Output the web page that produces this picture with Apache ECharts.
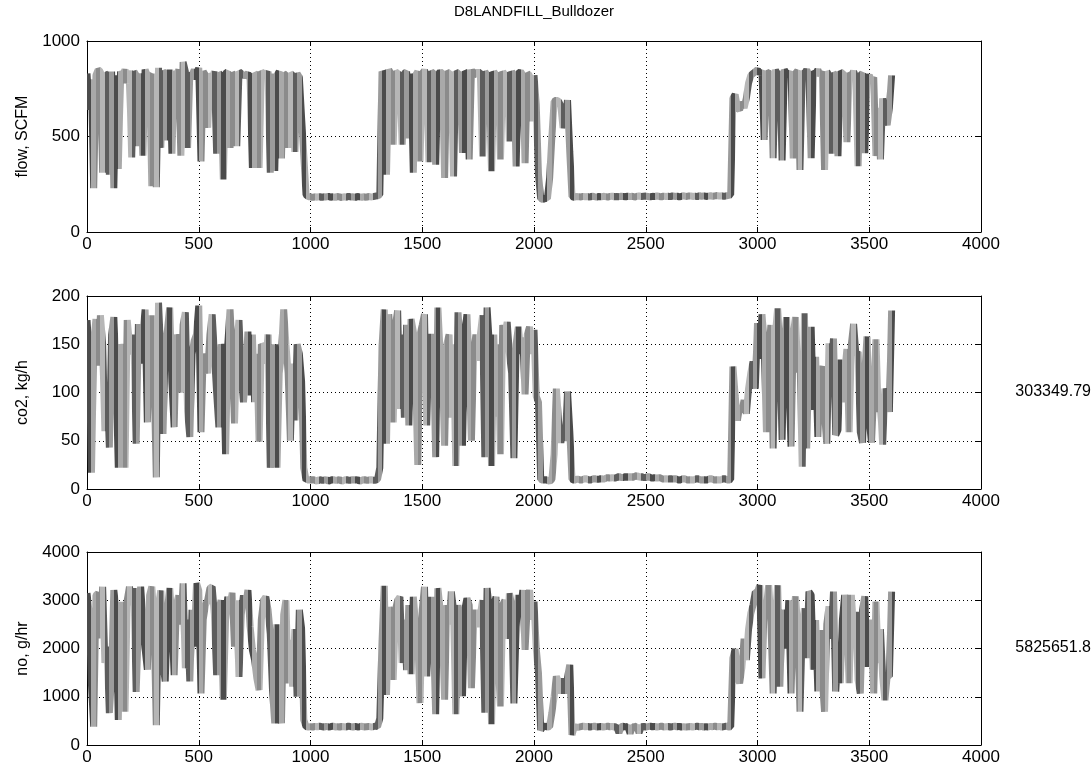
<!DOCTYPE html>
<html>
<head>
<meta charset="utf-8">
<script src="https://cdn.jsdelivr.net/npm/echarts@6/dist/echarts.min.js"></script>
<style>
html,body{margin:0;padding:0;background:#fff;}
#chart{width:1092px;height:778px;}
</style>
</head>
<body>
<div id="chart"></div>
<script>
// ---- data (sampled every 10 s, t = 0 .. 3600) ----
const sampleStep = 10;
const chartTitle = 'D8LANDFILL_Bulldozer';
const yNames = ['flow, SCFM', 'co2, kg/h', 'no, g/hr'];
const totals = ['', '303349.79', '5825651.8'];
const xTicks = {min: 0, max: 4000, interval: 500};
const yTicks = [
  {min: 0, max: 1000, interval: 500},
  {min: 0, max: 200, interval: 50},
  {min: 0, max: 4000, interval: 1000}
];

const flow = [
  830, 640, 800, 230, 820, 850, 840, 310, 830, 820,
  300, 840, 230, 820, 330, 840, 820, 850, 780, 845,
  390, 840, 820, 450, 830, 400, 850, 820, 830, 240,
  830, 235, 860, 440, 840, 830, 480, 850, 410, 840,
  820, 850, 400, 890, 840, 440, 830, 820, 850, 800,
  860, 370, 840, 820, 545, 830, 800, 840, 410, 830,
  820, 275, 830, 840, 440, 830, 820, 450, 840, 830,
  820, 820, 830, 800, 335, 830, 820, 335, 840, 830,
  820, 840, 310, 830, 320, 820, 840, 385, 830, 820,
  440, 830, 820, 420, 830, 810, 600, 400, 195, 185,
  185, 180, 185, 182, 186, 180, 185, 183, 187, 182,
  185, 180, 186, 184, 180, 185, 182, 187, 183, 185,
  180, 186, 184, 182, 185, 180, 187, 183, 185, 188,
  190, 195, 840, 820, 300, 850, 830, 457, 840, 830,
  820, 457, 830, 840, 490, 830, 310, 820, 840, 370,
  830, 845, 820, 365, 840, 830, 352, 820, 840, 830,
  283, 840, 830, 820, 291, 840, 830, 820, 414, 840,
  830, 380, 850, 820, 830, 840, 830, 396, 840, 820,
  830, 318, 840, 820, 830, 380, 840, 820, 830, 475,
  840, 820, 344, 830, 840, 820, 360, 830, 820, 580,
  820, 667, 300, 175, 170, 178, 175, 283, 500, 684,
  690, 685, 660, 545, 600, 690, 420, 185, 182, 186,
  185, 183, 187, 184, 186, 182, 188, 185, 183, 186,
  184, 187, 185, 183, 186, 188, 184, 186, 185, 187,
  186, 184, 188, 185, 187, 183, 186, 189, 185, 187,
  188, 186, 184, 187, 185, 189, 186, 184, 188, 186,
  187, 185, 189, 186, 188, 184, 187, 190, 186, 188,
  189, 186, 188, 185, 190, 187, 189, 186, 188, 190,
  187, 189, 191, 188, 190, 186, 189, 192, 195, 700,
  720, 650, 640, 680, 650, 700, 780, 820, 830, 840,
  850, 830, 845, 482, 840, 830, 830, 387, 850, 820,
  840, 375, 850, 830, 820, 840, 385, 830, 845, 325,
  840, 830, 850, 820, 387, 840, 830, 850, 820, 840,
  325, 840, 820, 410, 830, 820, 397, 840, 830, 820,
  471, 830, 820, 840, 810, 345, 820, 830, 413, 800,
  820, 790, 810, 398, 650, 380, 700, 600, 560, 650,
  820
];

const co2 = [
  175, 140, 17, 150, 176, 128, 180, 150, 60, 110,
  43, 160, 178, 120, 22, 150, 140, 22, 175, 150,
  140, 160, 47, 171, 130, 160, 186, 69, 150, 180,
  120, 12, 193, 140, 57, 150, 165, 188, 110, 64,
  160, 150, 100, 170, 183, 81, 54, 140, 154, 160,
  190, 59, 140, 130, 120, 160, 181, 140, 100, 64,
  150, 140, 36, 150, 186, 140, 68, 150, 175, 120,
  90, 120, 163, 97, 160, 90, 140, 49, 150, 147,
  130, 160, 22, 90, 150, 22, 120, 140, 186, 150,
  120, 50, 130, 71, 150, 140, 112, 22, 9, 10,
  9, 10, 9, 8, 10, 9, 9, 10, 8, 9,
  10, 9, 9, 10, 8, 9, 10, 9, 9, 10,
  9, 10, 8, 9, 10, 9, 9, 10, 9, 9,
  10, 22, 148, 186, 47, 181, 150, 69, 170, 185,
  83, 160, 74, 170, 66, 176, 163, 120, 25, 160,
  170, 181, 66, 150, 160, 150, 33, 188, 140, 120,
  45, 150, 160, 74, 150, 24, 183, 150, 45, 160,
  181, 120, 50, 140, 160, 133, 160, 180, 33, 188,
  150, 24, 160, 75, 150, 36, 170, 160, 173, 140,
  120, 32, 150, 168, 140, 157, 98, 160, 168, 140,
  165, 96, 90, 10, 9, 10, 9, 8, 10, 36,
  104, 70, 48, 60, 50, 101, 60, 10, 9, 10,
  10, 9, 10, 11, 10, 9, 10, 11, 10, 10,
  11, 10, 11, 12, 11, 12, 11, 12, 13, 12,
  12, 13, 12, 13, 12, 13, 14, 12, 13, 12,
  12, 13, 12, 11, 12, 11, 12, 11, 10, 11,
  10, 11, 10, 11, 10, 9, 10, 11, 10, 9,
  10, 9, 10, 11, 10, 9, 10, 9, 10, 11,
  10, 9, 10, 9, 10, 11, 10, 9, 10, 127,
  97, 71, 85, 80, 92, 78, 104, 120, 132, 104,
  172, 135, 181, 150, 59, 140, 170, 42, 160, 187,
  140, 51, 150, 178, 120, 44, 160, 178, 121, 140,
  23, 182, 42, 140, 168, 82, 137, 54, 120, 127,
  78, 47, 151, 120, 156, 56, 61, 134, 90, 120,
  145, 59, 150, 171, 140, 142, 59, 48, 120, 158,
  71, 48, 100, 155, 80, 90, 46, 104, 95, 80,
  185
];

const no = [
  3150, 2730, 1250, 380, 3100, 3150, 2210, 3280, 1700, 2040,
  660, 1410, 3210, 2800, 520, 2970, 1800, 690, 3000, 3280,
  2900, 3250, 1100, 2500, 3280, 2600, 1990, 1560, 3100, 3280,
  2590, 410, 2900, 3200, 1650, 1320, 2800, 3250, 2560, 1450,
  2900, 3100, 2500, 3350, 1590, 2600, 1320, 2800, 2040, 3350,
  3200, 1070, 2600, 2900, 3000, 3250, 3280, 2700, 1450, 2800,
  3000, 940, 2600, 3070, 2900, 3150, 2040, 3000, 1410, 2700,
  3100, 2900, 3210, 2450, 1970, 1760, 1380, 1140, 2600, 3000,
  3070, 2800, 2300, 1140, 450, 2500, 860, 450, 2700, 3000,
  1280, 2180, 1210, 2400, 1000, 2800, 2420, 520, 380, 370,
  380, 370, 385, 375, 390, 380, 370, 385, 375, 380,
  390, 375, 380, 370, 385, 380, 375, 390, 380, 370,
  385, 375, 380, 390, 370, 380, 385, 375, 380, 390,
  380, 553, 2140, 3300, 1040, 2860, 2500, 1350, 2800, 3000,
  3070, 1700, 2600, 1550, 2900, 1470, 3070, 2500, 2200, 870,
  2800, 3280, 1420, 2600, 3070, 2300, 640, 3250, 2800, 2400,
  940, 2900, 2500, 3180, 2800, 640, 2900, 2400, 1010, 2800,
  3040, 2900, 1180, 2500, 2800, 2450, 2700, 3000, 670, 3250,
  2800, 430, 2900, 3070, 1690, 800, 2900, 3000, 2200, 3140,
  2900, 860, 2450, 3110, 2800, 3210, 1970, 2900, 3210, 2600,
  2970, 2000, 1490, 310, 380, 390, 370, 380, 670, 1000,
  1420, 1300, 1070, 1380, 1070, 1400, 1660, 210, 380, 370,
  370, 380, 390, 375, 385, 370, 380, 390, 375, 380,
  385, 370, 380, 390, 375, 385, 370, 380, 250, 380,
  390, 370, 385, 240, 380, 375, 390, 250, 380, 385,
  370, 380, 390, 375, 385, 370, 380, 390, 375, 380,
  385, 370, 380, 390, 375, 385, 370, 380, 375, 380,
  385, 370, 380, 390, 375, 385, 370, 380, 375, 385,
  380, 390, 375, 385, 370, 380, 390, 375, 380, 1800,
  1990, 1420, 1280, 1600, 2200, 1760, 2400, 2730, 2900, 3170,
  3170, 3310, 1380, 2940, 2870, 3310, 2560, 1070, 2590, 3310,
  1210, 2800, 2590, 2000, 3000, 1070, 2600, 3080, 2450, 690,
  2400, 2830, 1800, 3180, 3110, 1560, 2590, 1110, 2380, 1350,
  690, 2500, 2870, 2200, 3180, 1110, 1900, 1280, 2600, 3110,
  2690, 1280, 3110, 2350, 2760, 1350, 1070, 2800, 3080, 1620,
  2600, 2180, 1070, 2970, 1700, 2400, 1420, 930, 1420, 1420,
  3180
];

// ---- chart ----
const seriesValues = [flow, co2, no];
const grayCycle = ['#4b4b4b', '#a9a9a9', '#8b8b8b', '#b6b6b6', '#5d5d5d', '#9b9b9b'];
const pieceWidth = 20;

const chart = echarts.init(document.getElementById('chart'), null, {renderer: 'canvas'});

const grids = [
  {left: 87, top: 41, width: 894, height: 191},
  {left: 87, top: 296, width: 894, height: 193},
  {left: 87, top: 552, width: 894, height: 193}
];
const fontFamily = 'Liberation Sans, Arial, Helvetica, sans-serif';
const plain = v => String(v);

const xAxes = [], yAxes = [], series = [];
grids.forEach((g, i) => {
  xAxes.push({
    gridIndex: i, type: 'value', position: 'bottom',
    min: xTicks.min, max: xTicks.max, interval: xTicks.interval,
    axisLine: {onZero: false, lineStyle: {color: '#000', width: 1}},
    axisTick: {inside: true, length: 5, lineStyle: {color: '#000'}},
    axisLabel: {color: '#000', fontSize: 17, fontFamily, margin: 4, formatter: plain},
    splitLine: {show: true, lineStyle: {color: '#000', type: [1, 3], width: 1}}
  });
  xAxes.push({
    gridIndex: i, type: 'value', position: 'top',
    min: xTicks.min, max: xTicks.max, interval: xTicks.interval,
    axisLine: {onZero: false, lineStyle: {color: '#000', width: 1}},
    axisTick: {inside: true, length: 5, lineStyle: {color: '#000'}},
    axisLabel: {show: false}, splitLine: {show: false}
  });
  const yt = yTicks[i];
  yAxes.push({
    gridIndex: i, type: 'value', position: 'left',
    min: yt.min, max: yt.max, interval: yt.interval,
    name: yNames[i], nameLocation: 'middle', nameRotate: 90, nameGap: 56,
    nameTextStyle: {color: '#000', fontSize: 16, fontFamily},
    axisLine: {onZero: false, lineStyle: {color: '#000', width: 1}},
    axisTick: {inside: true, length: 5, lineStyle: {color: '#000'}},
    axisLabel: {color: '#000', fontSize: 17, fontFamily, margin: 7, formatter: plain},
    splitLine: {show: true, lineStyle: {color: '#000', type: [1, 3], width: 1}}
  });
  yAxes.push({
    gridIndex: i, type: 'value', position: 'right',
    min: yt.min, max: yt.max, interval: yt.interval,
    axisLine: {onZero: false, lineStyle: {color: '#000', width: 1}},
    axisTick: {inside: true, length: 5, lineStyle: {color: '#000'}},
    axisLabel: {show: false}, splitLine: {show: false}
  });
  series.push({
    type: 'line',
    xAxisIndex: i * 2, yAxisIndex: i * 2,
    data: seriesValues[i].map((v, k) => [k * sampleStep, v]),
    symbol: 'none', showSymbol: false,
    lineStyle: {width: 7, cap: 'butt', join: 'bevel'},
    z: 1
  });
});

const pieces = [];
for (let s = 0, k = 0; s < 3700; s += pieceWidth, k++) {
  pieces.push({gte: s, lt: s + pieceWidth, color: grayCycle[k % grayCycle.length]});
}

const graphics = [
  {type: 'text', x: 534, y: 4, style: {text: chartTitle, fill: '#000', font: '15px ' + fontFamily, textAlign: 'center', textVerticalAlign: 'top'}},
  {type: 'text', x: 1091, y: 392, style: {text: totals[1], fill: '#000', font: '16px ' + fontFamily, textAlign: 'right', textVerticalAlign: 'middle'}},
  {type: 'text', x: 1091, y: 648, style: {text: totals[2], fill: '#000', font: '16px ' + fontFamily, textAlign: 'right', textVerticalAlign: 'middle'}}
];

chart.setOption({
  animation: false,
  backgroundColor: '#fff',
  grid: grids,
  xAxis: xAxes,
  yAxis: yAxes,
  visualMap: [{
    type: 'piecewise', show: false, dimension: 0,
    seriesIndex: [0, 1, 2], pieces: pieces
  }],
  graphic: graphics,
  series: series
});
</script>
</body>
</html>
